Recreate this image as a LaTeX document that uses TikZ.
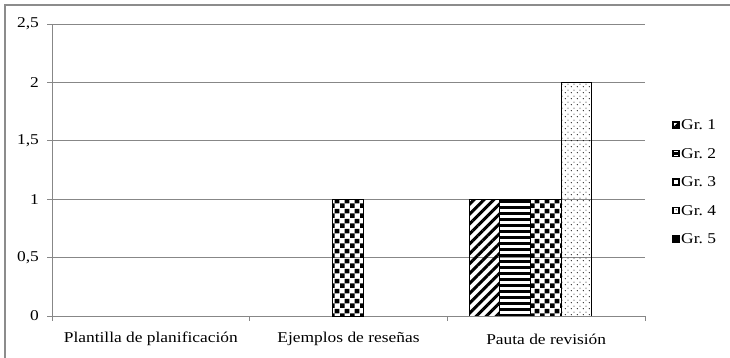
\documentclass[tikz,border=0pt]{standalone}
\usepackage{fontspec}
\setmainfont{Liberation Serif}[FakeStretch=1.16]
\usetikzlibrary{patterns.meta}

% Fill patterns of the five groups
\tikzdeclarepattern{
  name=checkerfive, type=uncolored,
  bounding box={(0pt,0pt) and (10pt,10pt)}, tile size={(10pt,10pt)},
  code={\fill (0pt,0pt) rectangle (5pt,5pt); \fill (5pt,5pt) rectangle (10pt,10pt);}
}
\tikzdeclarepattern{
  name=sparsedots, type=uncolored,
  bounding box={(0pt,0pt) and (6pt,6pt)}, tile size={(6pt,6pt)},
  code={\fill (1.5pt,1.5pt) circle (0.65pt); \fill (4.5pt,4.5pt) circle (0.65pt);}
}

\begin{document}
\begin{tikzpicture}[x=1pt,y=-1pt,font=\fontsize{15}{18}\selectfont]
    \tikzstyle{grid}=[draw=black!47,line width=1pt]
    \tikzstyle{bar}=[draw=black,line width=0.9pt]
    \tikzstyle{grone}=[pattern={Lines[angle=45,distance=7pt,line width=3pt]}]
    \tikzstyle{grtwo}=[pattern={Lines[angle=0,distance=6pt,line width=3pt]}]
    \tikzstyle{grthree}=[pattern=checkerfive]
    \tikzstyle{grfour}=[pattern=sparsedots]
    \tikzstyle{grfive}=[fill=black]
    \tikzstyle{key}=[draw=black,line width=1.1pt]
    \tikzstyle{keythree}=[line width=1.5pt]

    \useasboundingbox (0,0) rectangle (730,357);

    % Outer frame
    \draw[draw=black!45,line width=1.3pt] (5,5) rectangle (745,375);

    % Grid lines and value labels
    \foreach \v/\lab in {0/0,0.5/{0,5},1/1,1.5/{1,5},2/2,2.5/{2,5}} {
        \draw[grid] (47,{316-116.8*\v}) -- (645,{316-116.8*\v});
        \node[anchor=east,inner sep=0pt] (V-\v) at (39,{316-116.8*\v}) {\lab};
    }

    % Axes and category ticks
    \draw[grid] (52,24) -- (52,316);
    \foreach \c in {0,1,2,3}
        \draw[grid] ({52+197.67*\c},316) -- ({52+197.67*\c},321);

    % Bars: Ejemplos de reseñas
    \draw[bar,grthree] (332.9,316) rectangle (363.5,{316-116.8*1});

    % Bars: Pauta de revisión
    \draw[bar,grone]   (469.3,316) rectangle (499.9,{316-116.8*1});
    \draw[bar,grtwo]   (499.9,316) rectangle (530.5,{316-116.8*1});
    \draw[bar,grthree] (530.5,316) rectangle (561.1,{316-116.8*1});
    \draw[bar,grfour]  (561.1,316) rectangle (591.7,{316-116.8*2});
    \draw[grid] (447.3,316) -- (645,316);

    % Category labels
    \node (C-1) at (150.8,339) {Plantilla de planificación};
    \node (C-2) at (348.5,339) {Ejemplos de reseñas};
    \node (C-3) at (546.2,339) {Pauta de revisión};

    % Legend
    \foreach \g/\st [count=\i] in {1/grone,2/grtwo,3/keythree,4/grfour,5/grfive} {
        \draw[key,\st] (673,{125+28.5*(\i-1)-3}) rectangle (679,{125+28.5*(\i-1)+3});
        \node[anchor=west,inner sep=0pt] (L-\g) at (681,{125+28.5*(\i-1)}) {Gr.~\g};
    }
\end{tikzpicture}
\end{document}
